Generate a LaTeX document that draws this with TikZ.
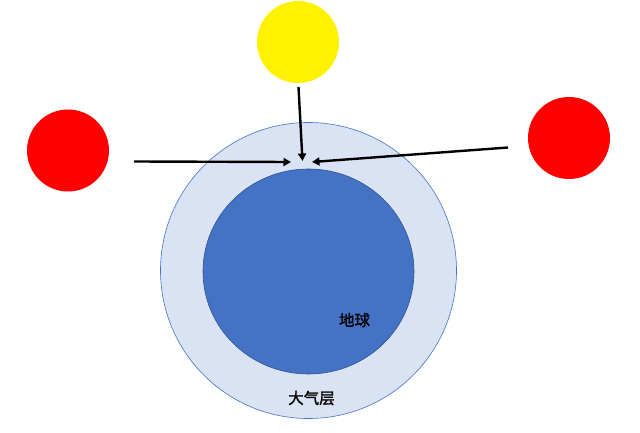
\documentclass[tikz,border=0pt]{standalone}
\usepackage{fontspec}
\newfontfamily\cjk[FakeBold=1.5]{Noto Sans CJK SC}
\usetikzlibrary{arrows.meta,shapes.geometric}
\definecolor{atmfill}{HTML}{DAE3F3}
\definecolor{earthblue}{HTML}{4472C4}
\definecolor{earthedge}{HTML}{2F528F}
\begin{document}
\begin{tikzpicture}[x=1pt,y=-1pt,
  ball/.style={circle,inner sep=0pt,minimum size=82pt},
  ray/.style={line width=2.4pt,-{Triangle[length=7.5pt,width=8pt]}},
  lbl/.style={font=\cjk\fontsize{15.5}{17}\selectfont,text=black}]
\useasboundingbox (0,0) rectangle (640,433);
\fill[white] (0,0) rectangle (640,433);
\node[circle,inner sep=0pt,minimum size=296pt,fill=atmfill,draw=earthblue,line width=0.6pt] (atm) at (308.5,270.5) {};
\node[ellipse,inner sep=0pt,minimum width=211pt,minimum height=205pt,fill=earthblue,draw=earthedge,line width=0.6pt] (earth) at (308.5,271.5) {};
\node[ball,fill=yellow] (sun) at (298,42) {};
\node[ball,fill=red] (lred) at (68,150.5) {};
\node[ball,fill=red] (rred) at (569,138) {};
\coordinate (ls) at (134,161.5);
\coordinate (lt) at (291,162);
\coordinate (ts) at (298.5,87);
\coordinate (tt) at (302.5,161);
\coordinate (rs) at (508,147.5);
\coordinate (rt) at (312,162);
\draw[ray] (ls) -- (lt);
\draw[ray] (ts) -- (tt);
\draw[ray] (rs) -- (rt);
\node[lbl] (earthlbl) at (354.5,320) {地球};
\node[lbl] (atmlbl) at (311.5,398) {大气层};
\end{tikzpicture}
\end{document}
